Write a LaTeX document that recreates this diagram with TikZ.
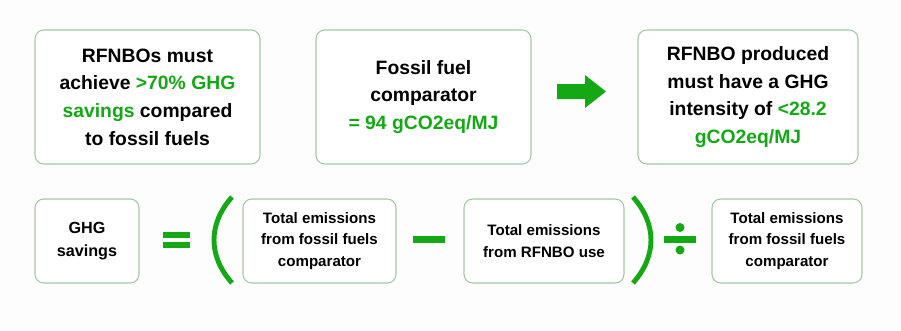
\documentclass[tikz,border=0pt]{standalone}
\usepackage{fontspec}
\setmainfont{Liberation Sans}
\usepackage{tikz}
\definecolor{ghggreen}{HTML}{14A914}
\definecolor{boxgreen}{HTML}{A3C9A3}
\definecolor{pagewhite}{HTML}{FDFDFD}

\begin{document}
\begin{tikzpicture}[
  topbox/.style={draw=boxgreen, fill=white, line width=0.6pt, rounded corners=5pt, align=center, minimum height=2.68cm, font=\fontsize{11}{15.8}\selectfont\bfseries},
  eqbox/.style={draw=boxgreen, fill=white, line width=0.6pt, rounded corners=5pt, align=center, minimum height=1.68cm, font=\fontsize{8.6}{12.3}\selectfont\bfseries},
  paren/.style={draw=ghggreen, line width=2.8pt},
  operator/.style={fill=ghggreen}
]
\fill[pagewhite] (-9.01,-3.3) rectangle (9.01,3.3);

% top row
\node[topbox, minimum width=4.5cm] (targetbox) at (-6.06,1.36) {RFNBOs must\\achieve \textcolor{ghggreen}{>70\% GHG}\\\textcolor{ghggreen}{savings} compared\\to fossil fuels};
\node[topbox, minimum width=4.3cm] (fossilbox) at (-0.54,1.36) {Fossil fuel\\comparator\\\textcolor{ghggreen}{= 94 gCO2eq/MJ}};
\node[topbox, minimum width=4.4cm] (intensitybox) at (5.95,1.36) {RFNBO produced\\must have a GHG\\intensity of \textcolor{ghggreen}{<28.2}\\\textcolor{ghggreen}{gCO2eq/MJ}};
\fill[operator] (2.13,1.62) -- (2.69,1.62) -- (2.69,1.8) -- (3.11,1.47) -- (2.69,1.14) -- (2.69,1.32) -- (2.13,1.32) -- cycle;

% bottom row
\node[eqbox, minimum width=2.08cm, font=\fontsize{9.2}{12.7}\selectfont\bfseries] (savingsbox) at (-7.27,-1.52) {GHG\\savings};
\node[eqbox, minimum width=3.06cm] (fossilsum) at (-2.62,-1.52) {Total emissions\\from fossil fuels\\comparator};
\node[eqbox, minimum width=3.2cm] (rfnbosum) at (1.87,-1.52) {Total emissions\\from RFNBO use};
\node[eqbox, minimum width=3.0cm] (comparatorsum) at (6.73,-1.52) {Total emissions\\from fossil fuels\\comparator};

\fill[operator] (-5.75,-1.34) rectangle (-5.21,-1.46);
\fill[operator] (-5.75,-1.54) rectangle (-5.21,-1.66);
\draw[paren] (-4.37,-0.64) .. controls (-4.85,-1.18) and (-4.85,-1.82) .. (-4.37,-2.36);
\fill[operator] (-0.75,-1.42) rectangle (-0.11,-1.56);
\draw[paren] (3.65,-0.64) .. controls (4.13,-1.18) and (4.13,-1.82) .. (3.65,-2.36);
\fill[operator] (4.27,-1.42) rectangle (4.91,-1.56);
\fill[operator] (4.59,-1.25) circle (0.09);
\fill[operator] (4.59,-1.70) circle (0.09);
\end{tikzpicture}
\end{document}
